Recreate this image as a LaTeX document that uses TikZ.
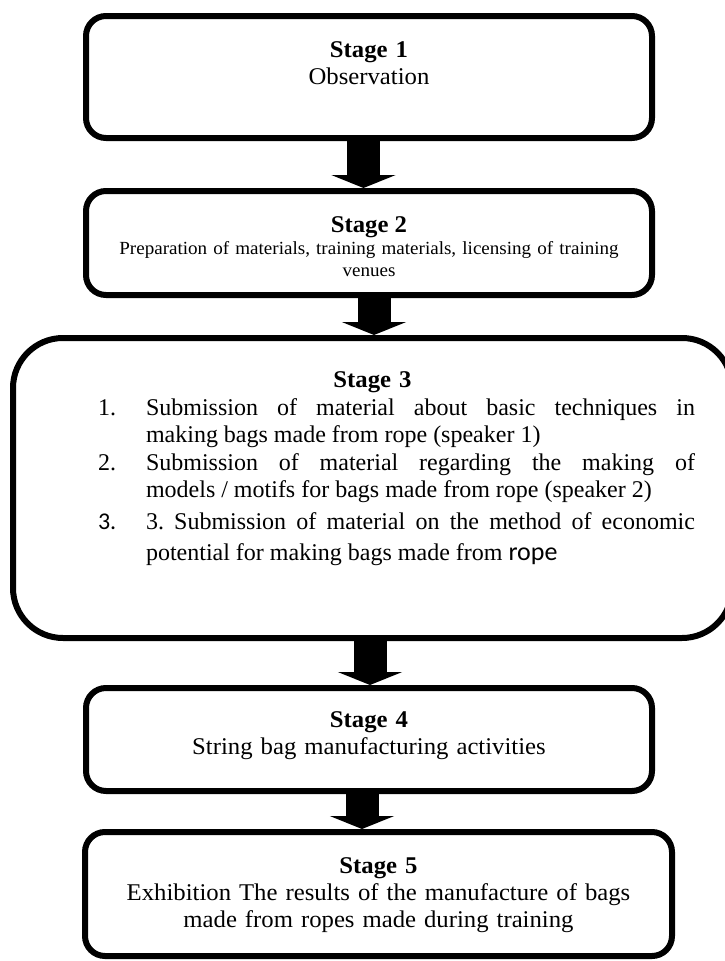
\documentclass[tikz,border=0pt]{standalone}
\usepackage{fontspec}
\setmainfont[FakeStretch=1.03]{Liberation Serif}
\newfontfamily\listfont{Liberation Serif}
\newfontfamily\carlito{Carlito}
\usetikzlibrary{positioning,arrows.meta,calc}
\newcommand{\stepitem}[2]{\par\hangindent=48pt\hangafter=1\noindent\makebox[48pt][l]{#1}#2\par}

\begin{document}
\begin{tikzpicture}[
    x=1pt, y=-1pt,
    stage/.style={draw, line width=6pt, rounded corners=20pt, inner xsep=13pt, inner ysep=0pt, text width=540pt, align=center, font=\fontsize{24pt}{27pt}\selectfont},
    blockarrow/.style={line width=33pt, -{Triangle[width=64pt, length=13pt]}},
  ]
    \useasboundingbox (0,0) rectangle (725,961);
    \node[stage, anchor=north, text height=41pt, text depth=81pt] (s1) at (369,13) {\textbf{Stage 1}\\Observation};
    \node[stage, below=47pt of s1, text height=41pt, text depth=63pt, font=\fontsize{18.5pt}{22pt}\selectfont] (s2) {{\fontsize{24pt}{27pt}\selectfont\textbf{Stage 2}}\\Preparation of materials, training materials, licensing of training\\venues};
    \node[stage, below=37pt of s2, xshift=3.5pt, rounded corners=50pt, text width=693pt, text height=49pt, text depth=251pt] (s3) {\textbf{Stage 3}\\[1pt]\hspace*{48pt}\parbox[t]{597pt}{\listfont\fontsize{24pt}{27.5pt}\selectfont\frenchspacing
      \leftskip=0pt \rightskip=0pt \parfillskip=0pt plus 1fil \spaceskip=0pt \xspaceskip=0pt
      \stepitem{1.}{Submission of material about basic techniques in\linebreak making bags made from rope (speaker 1)}
      \stepitem{2.}{Submission of material regarding the making of\linebreak models / motifs for bags made from rope (speaker 2)}
      \vspace{4pt}
      \stepitem{\carlito 3.}{3. Submission of material on the method of economic\linebreak\rule{0pt}{30pt}potential for making bags made from {\carlito\fontsize{26pt}{27.5pt}\selectfont rope}}}};
    \node[stage, below=44pt of s3, xshift=-3.5pt, text height=39pt, text depth=64pt] (s4) {\textbf{Stage 4}\\String bag manufacturing activities};
    \node[stage, below=35pt of s4, xshift=9.5pt, text width=561pt, text height=41pt, text depth=83pt] (s5) {\textbf{Stage 5}\\Exhibition The results of the manufacture of bags\\made from ropes made during training};

    \draw[blockarrow] ([xshift=-5.5pt]s1.south) -- ([xshift=-5.5pt]s1.south |- s2.north);
    \draw[blockarrow] ([xshift=5pt]s2.south) -- ([xshift=5pt]s2.south |- s3.north);
    \draw[blockarrow] ([xshift=-2.5pt]s3.south) -- ([xshift=-2.5pt]s3.south |- s4.north);
    \draw[blockarrow] ([xshift=-7pt]s4.south) -- ([xshift=-7pt]s4.south |- s5.north);
  \end{tikzpicture}
\end{document}
